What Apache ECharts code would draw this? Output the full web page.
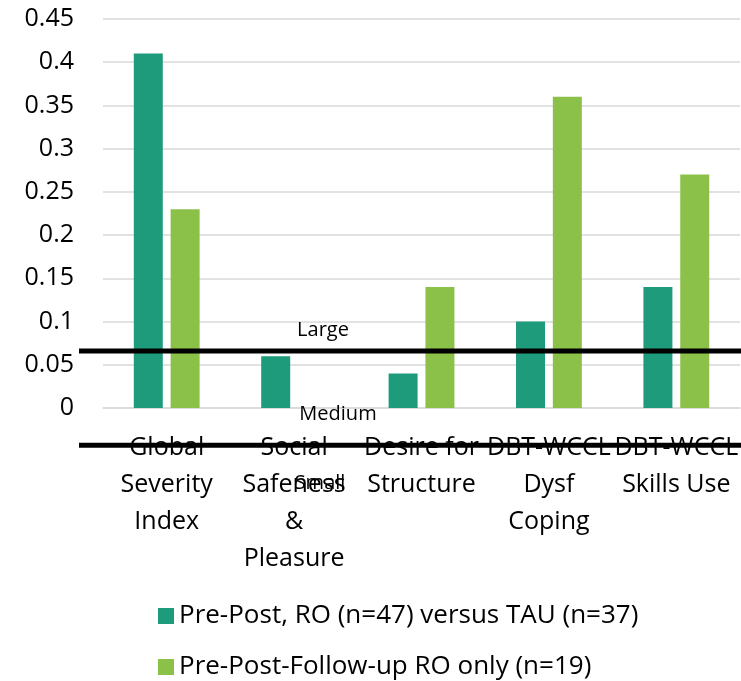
<!DOCTYPE html>
<html><head><meta charset="utf-8">
<script src="https://cdn.jsdelivr.net/npm/echarts@6/dist/echarts.min.js"></script>
<style>html,body{margin:0;padding:0;background:#fff}#c{width:741px;height:681px}</style>
</head><body><div id="c"></div>
<script>
const categories = ['Global\nSeverity\nIndex','Social\nSafeness\n&\nPleasure','Desire for\nStructure','DBT-WCCL\nDysf\nCoping','DBT-WCCL\nSkills Use'];
const seriesNames = ['Pre-Post, RO (n=47) versus TAU (n=37)','Pre-Post-Follow-up RO only (n=19)'];
const prePostRO = [0.41, 0.06, 0.04, 0.10, 0.14];
const followUpRO = [0.23, null, 0.14, 0.36, 0.27];
const yMin = 0, yMax = 0.45, yInterval = 0.05;
const refLineValues = [0.066, -0.043];
const refLabels = ['Large', 'Medium', 'Small'];
const colors = ['#1e9b7a', '#8bc148'];
const FONT = 'Open Sans';
const FS = 25;

const legendBase = {
  left: 153, itemWidth: 16, itemHeight: 16, icon: 'rect',
  textStyle: {fontFamily: FONT, fontSize: 26, color: '#000', padding: [0, 0, 0, 0]}
};

const chart = echarts.init(document.getElementById('c'), null, {renderer: 'canvas'});
chart.setOption({
  animation: false,
  backgroundColor: '#fff',
  textStyle: {fontFamily: FONT, color: '#000'},
  grid: {left: 103, right: -1, top: 19, bottom: 273, containLabel: false},
  legend: [
    Object.assign({}, legendBase, {top: 598, data: [seriesNames[0]]}),
    Object.assign({}, legendBase, {top: 649, data: [seriesNames[1]]})
  ],
  xAxis: {
    type: 'category', data: categories,
    axisLine: {show: true, lineStyle: {color: '#d9d9d9', width: 1.5}},
    axisTick: {show: false},
    axisLabel: {interval: 0, fontFamily: FONT, fontSize: FS, color: '#000', lineHeight: 37, margin: 21}
  },
  yAxis: {
    type: 'value', min: yMin, max: yMax, interval: yInterval,
    axisLine: {show: false}, axisTick: {show: false},
    splitLine: {lineStyle: {color: '#d9d9d9', width: 1.5}},
    axisLabel: {fontFamily: FONT, fontSize: FS, color: '#000', margin: 29}
  },
  series: [
    {name: seriesNames[0], type: 'bar', data: prePostRO, barWidth: 29, barGap: '27%', itemStyle: {color: colors[0]}},
    {name: seriesNames[1], type: 'bar', data: followUpRO, barWidth: 29, itemStyle: {color: colors[1]}}
  ]
});

function drawRefs() {
  const yA = chart.convertToPixel({yAxisIndex: 0}, refLineValues[0]);
  const yB = chart.convertToPixel({yAxisIndex: 0}, refLineValues[1]);
  const W = chart.getWidth();
  const lineStyle = {stroke: '#000', lineWidth: 5};
  const txt = (t, x, y) => ({type: 'text', z: 100, x: x, y: y, style: {text: t, fill: '#000', font: '20px "' + FONT + '"', textAlign: 'center', textVerticalAlign: 'middle'}});
  chart.setOption({graphic: [
    {type: 'line', z: 100, shape: {x1: 79, y1: yA, x2: W, y2: yA}, style: lineStyle},
    {type: 'line', z: 100, shape: {x1: 79, y1: yB, x2: W, y2: yB}, style: lineStyle},
    txt(refLabels[0], 323, yA - 21),
    txt(refLabels[1], 338, yB - 31),
    txt(refLabels[2], 320, yB + 38)
  ]});
}
drawRefs();
</script>
</body></html>
